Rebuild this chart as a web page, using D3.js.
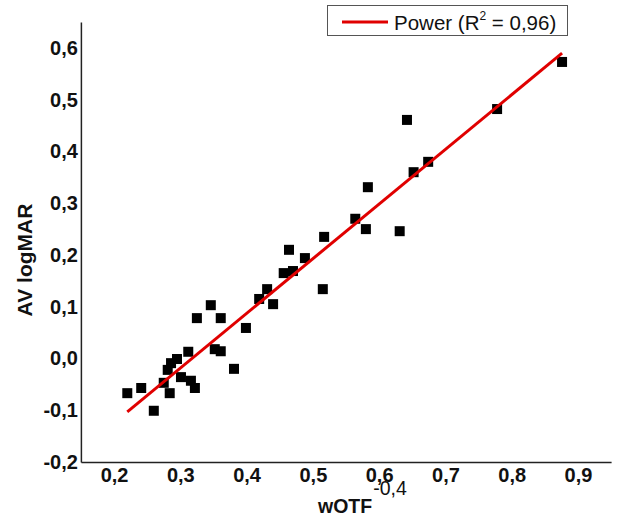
<!DOCTYPE html>
<html><head><meta charset="utf-8">
<script src="https://cdn.jsdelivr.net/npm/d3@7"></script>
<style>body{margin:0;background:#fff}svg{display:block}</style>
</head><body>
<svg id="c" width="622" height="517"></svg>
<script>
const xTicks = [0.2,0.3,0.4,0.5,0.6,0.7,0.8,0.9];
const yTicks = [-0.2,-0.1,0.0,0.1,0.2,0.3,0.4,0.5,0.6];
const xValues = [0.220,0.241,0.260,0.275,0.281,0.286,0.295,0.284,0.301,0.312,0.316,0.322,0.325,0.346,0.352,0.361,0.361,0.381,0.399,0.419,0.431,0.440,0.456,0.464,0.470,0.488,0.515,0.517,0.564,0.580,0.583,0.631,0.642,0.652,0.674,0.778,0.876];
const yValues = [-0.067,-0.057,-0.101,-0.047,-0.022,-0.009,-0.001,-0.067,-0.036,0.013,-0.043,-0.057,0.078,0.103,0.018,0.014,0.078,-0.020,0.059,0.115,0.134,0.105,0.165,0.210,0.169,0.194,0.134,0.235,0.270,0.250,0.331,0.246,0.461,0.360,0.380,0.482,0.573];
const trendX = [0.220, 0.876];
const trendY = [-0.103, 0.590];
const legendLabel = "Power (R";
const legendSup = "2";
const legendRest = " = 0,96)";

const svg = d3.select("#c");
const x = d3.scaleLinear().domain([0.15,0.95]).range([80.9,611.1]);
const y = d3.scaleLinear().domain([-0.2,0.65]).range([462,22.1]);
const fmt = v => d3.format(".1f")(v).replace("\u2212","-").replace(".",",");
const ff = "'Liberation Sans', Arial, sans-serif";

// axes
const ya = svg.append("g").attr("transform",`translate(${x(0.15)},0)`)
  .call(d3.axisLeft(y).tickValues(yTicks).tickSize(0).tickPadding(3).tickFormat(fmt));
ya.select(".domain").attr("stroke","#222").attr("stroke-width",1.5);
ya.selectAll("text").attr("font-family",ff).attr("font-weight","bold").attr("font-size",20).attr("fill","#111");

const xa = svg.append("g").attr("transform",`translate(0,${y(-0.2)})`)
  .call(d3.axisBottom(x).tickValues(xTicks).tickSize(0).tickPadding(6).tickFormat(fmt));
xa.select(".domain").attr("stroke","#222").attr("stroke-width",1.5);
xa.selectAll("text").attr("font-family",ff).attr("font-weight","bold").attr("font-size",20).attr("fill","#111");

// points
svg.append("g").selectAll("rect").data(xValues.map((v,i)=>[v,yValues[i]])).join("rect")
  .attr("x",d=>x(d[0])-5).attr("y",d=>y(d[1])-5).attr("width",10).attr("height",10).attr("fill","#000");

// trend line
svg.append("line").attr("x1",x(trendX[0])).attr("y1",y(trendY[0])).attr("x2",x(trendX[1])).attr("y2",y(trendY[1]))
  .attr("stroke","#e00000").attr("stroke-width",3);

// axis titles
svg.append("text").attr("transform","translate(32,260) rotate(-90)").attr("text-anchor","middle")
  .attr("font-family",ff).attr("font-weight","bold").attr("font-size",21).attr("fill","#111").text("AV logMAR");
const xt = svg.append("text").attr("x",318).attr("y",513).attr("font-family",ff).attr("fill","#111");
xt.append("tspan").attr("font-weight","bold").attr("font-size",19.5).text("wOTF");
xt.append("tspan").attr("font-size",19.5).attr("dx",1).attr("dy",-18).text("-0,4");

// legend
svg.append("rect").attr("x",327.5).attr("y",5.5).attr("width",240).attr("height",30).attr("fill","#fff").attr("stroke","#555").attr("stroke-width",1);
svg.append("line").attr("x1",342).attr("x2",388).attr("y1",22).attr("y2",22).attr("stroke","#e00000").attr("stroke-width",3);
const lt = svg.append("text").attr("x",394).attr("y",30).attr("font-family",ff).attr("font-size",20.5).attr("fill","#111");
lt.append("tspan").text(legendLabel);
lt.append("tspan").attr("font-size",12).attr("dy",-10).text(legendSup);
lt.append("tspan").attr("dy",10).text(legendRest);
</script>
</body></html>
